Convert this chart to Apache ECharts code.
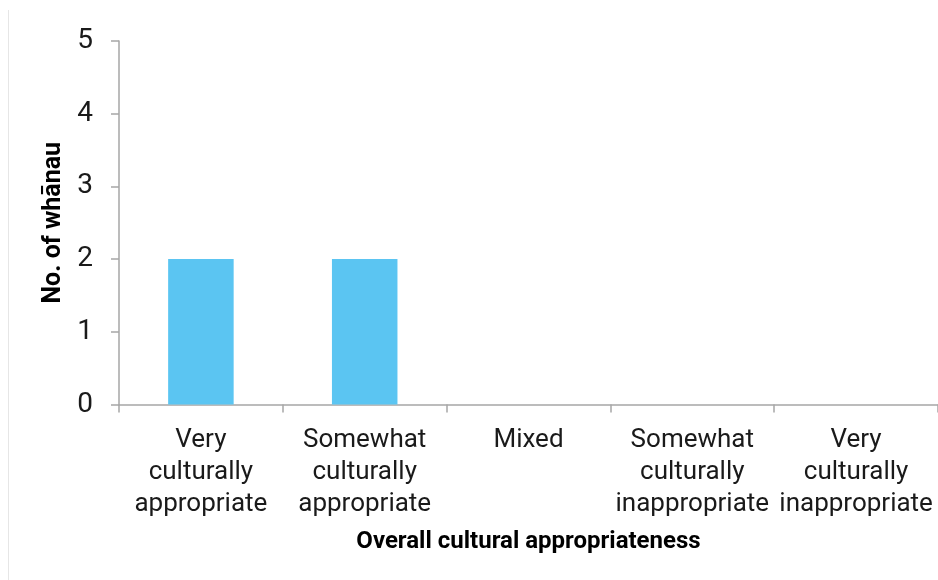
<!DOCTYPE html>
<html>
<head>
<meta charset="utf-8">
<script src="https://cdn.jsdelivr.net/npm/echarts@6/dist/echarts.min.js"></script>
<style>
  html, body { margin: 0; padding: 0; background: #ffffff; }
  #chart { width: 938px; height: 580px; }
</style>
</head>
<body>
<div id="chart"></div>
<script>
// Survey responses: number of whānau per rating
const categories = [
  'Very culturally appropriate',
  'Somewhat culturally appropriate',
  'Mixed',
  'Somewhat culturally inappropriate',
  'Very culturally inappropriate'
];
const counts = [2, 2, 0, 0, 0];
const yTicks = [0, 1, 2, 3, 4, 5];

const chart = echarts.init(document.getElementById('chart'), null, { renderer: 'canvas' });

const axisGrey = '#a6a6a6';
const font = 'Roboto, "Liberation Sans", sans-serif';

chart.setOption({
  animation: false,
  backgroundColor: '#ffffff',
  grid: { left: 119, top: 41, width: 823, height: 363.5, containLabel: false },
  graphic: [{
    type: 'line',
    shape: { x1: 8.5, y1: 10, x2: 8.5, y2: 580 },
    style: { stroke: '#e6e6e6', lineWidth: 1 }
  }],
  xAxis: {
    type: 'category',
    data: categories,
    name: 'Overall cultural appropriateness',
    nameLocation: 'middle',
    nameGap: 125,
    nameTextStyle: { fontFamily: font, fontWeight: 'bold', fontSize: 24, color: '#000' },
    axisLine: { show: true, lineStyle: { color: axisGrey, width: 1.5 } },
    axisTick: { show: true, alignWithLabel: false, length: 8, lineStyle: { color: axisGrey, width: 1.5 } },
    axisLabel: {
      interval: 0,
      margin: 20,
      fontFamily: font,
      fontSize: 26,
      lineHeight: 32,
      color: '#1a1a1a',
      formatter: v => v.split(' ').join('\n')
    },
    splitLine: { show: false }
  },
  yAxis: {
    type: 'value',
    min: 0,
    max: 5,
    interval: 1,
    name: 'No. of whānau',
    nameLocation: 'middle',
    nameGap: 45,
    nameRotate: 90,
    nameTextStyle: { fontFamily: font, fontWeight: 'bold', fontSize: 25, color: '#000' },
    axisLine: { show: true, lineStyle: { color: axisGrey, width: 1.5 } },
    axisTick: { show: true, inside: false, length: 8, lineStyle: { color: axisGrey, width: 1.5 } },
    axisLabel: {
      margin: 26,
      fontFamily: font,
      fontSize: 28,
      color: '#1a1a1a',
      formatter: v => (yTicks.includes(v) ? String(v) : '')
    },
    splitLine: { show: false }
  },
  series: [{
    type: 'bar',
    data: counts,
    barWidth: '40%',
    itemStyle: { color: '#5bc5f2' }
  }]
});
</script>
</body>
</html>
